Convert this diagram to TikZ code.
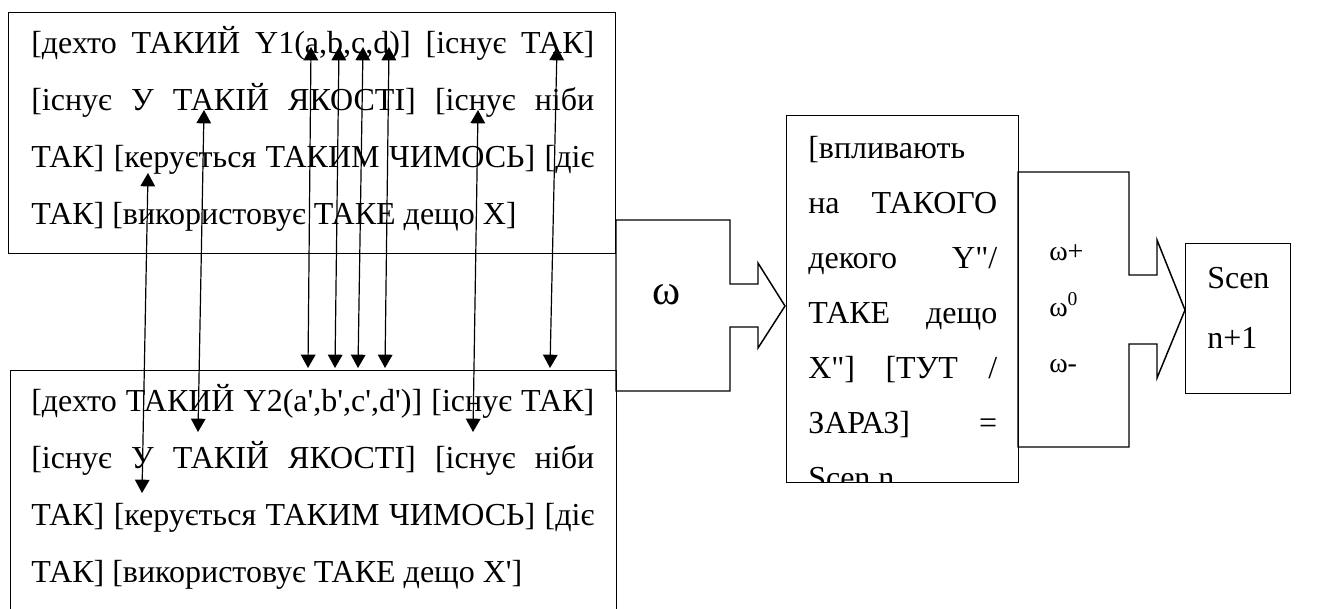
\documentclass[tikz,border=0pt]{standalone}
\usepackage{fontspec}
\setmainfont{Liberation Serif}
\newfontfamily\lib{Liberation Serif}
\usetikzlibrary{arrows.meta}
\newcommand\jline[1]{\makebox[\linewidth][s]{#1}}
\begin{document}
\begin{tikzpicture}[x=0.75pt,y=-0.75pt,line join=miter,
  box/.style={draw,line width=1.1pt,inner sep=0,anchor=north west},
  txt/.style={inner sep=0,anchor=base west,font=\lib\fontsize{24}{42.75}\selectfont},
  midtxt/.style={inner sep=0,anchor=base west,font=\lib\fontsize{24}{41.25}\selectfont},
  omsmall/.style={inner sep=0,anchor=base west,font=\lib\fontsize{21}{25}\selectfont},
  link/.style={line width=0.9pt,{Triangle[length=10pt,width=11pt]}-{Triangle[length=10pt,width=11pt]}},
  blockarrow/.style={draw,line width=1.1pt},
]
\useasboundingbox (0,0) rectangle (1324,608);
\clip (0,0) rectangle (1324,608);

% boxes
\node[box,minimum width=607*0.75pt,minimum height=241*0.75pt] (topbox) at (8,12) {};
\node[box,minimum width=606*0.75pt,minimum height=260*0.75pt] (botbox) at (10,370) {};
\node[box,minimum width=232*0.75pt,minimum height=367*0.75pt] (midbox) at (786,115) {};
\node[box,minimum width=105*0.75pt,minimum height=150*0.75pt] (nextbox) at (1185,243) {};

% block arrows
\draw[blockarrow] (616,220) -- (730,220) -- (730,284) -- (758,284) -- (758,263) -- (785,306)
  -- (758,348) -- (758,327) -- (730,327) -- (730,391) -- (616,391) -- cycle;
\draw[blockarrow] (1018,172) -- (1129,172) -- (1129,275) -- (1157,275) -- (1157,240) -- (1185,310)
  -- (1157,378) -- (1157,344) -- (1129,344) -- (1129,447) -- (1018,447) -- cycle;

% texts
\node[txt] (toptext) at (31,53) {\parbox[t]{422.25pt}{%
\jline{[дехто ТАКИЙ Y1(a,b,c,d)] [існує ТАК]}\\
\jline{[існує У ТАКІЙ ЯКОСТІ] [існує ніби}\\
\jline{ТАК] [керується ТАКИМ ЧИМОСЬ] [діє}\\
ТАК] [використовує ТАКЕ дещо X]}};

\node[txt] (bottext) at (31,411) {\parbox[t]{422.25pt}{%
\jline{[дехто ТАКИЙ Y2(a',b',c',d')] [існує ТАК]}\\
\jline{[існує У ТАКІЙ ЯКОСТІ] [існує ніби}\\
\jline{ТАК] [керується ТАКИМ ЧИМОСЬ] [діє}\\
ТАК] [використовує ТАКЕ дещо X']}};

\begin{scope}
\clip (787,116) rectangle (1017,481);
\node[midtxt] (midtext) at (808,158) {\parbox[t]{141.75pt}{%
[впливають\\
\jline{на ТАКОГО}\\
\jline{декого Y"/}\\
\jline{ТАКЕ дещо}\\
\jline{X"] [ТУТ /}\\
\jline{ЗАРАЗ] =}\\
Scen n}};
\end{scope}

\node[inner sep=0,font=\lib\fontsize{32}{38}\selectfont] (omega) at (667,295) {ω};
\node[omsmall] (omplus) at (1049,260) {ω+};
\node[omsmall] (omzero) at (1049,316) {ω\textsuperscript{0}};
\node[omsmall] (omminus) at (1049,372) {ω-};

\node[inner sep=0,anchor=base west,font=\lib\fontsize{24}{45}\selectfont] (nexttext) at (1207,288)
  {\parbox[t]{70pt}{Scen\\n+1}};

% links between the two descriptions
\coordinate (kAt) at (148,173); \coordinate (kAb) at (142,493);
\coordinate (kBt) at (204,110); \coordinate (kBb) at (198,432);
\coordinate (at) at (311,47);  \coordinate (ab) at (308,368);
\coordinate (bt) at (339,47);  \coordinate (bb) at (335,368);
\coordinate (ct) at (363,47);  \coordinate (cb) at (358,368);
\coordinate (dt) at (389,47);  \coordinate (db) at (385,368);
\coordinate (nt) at (478,110); \coordinate (nb) at (473,432);
\coordinate (tt) at (557,47);  \coordinate (tb) at (550,368);
\foreach \p in {kA,kB,a,b,c,d,n,t}{\draw[link] (\p t) -- (\p b);}
\end{tikzpicture}
\end{document}
